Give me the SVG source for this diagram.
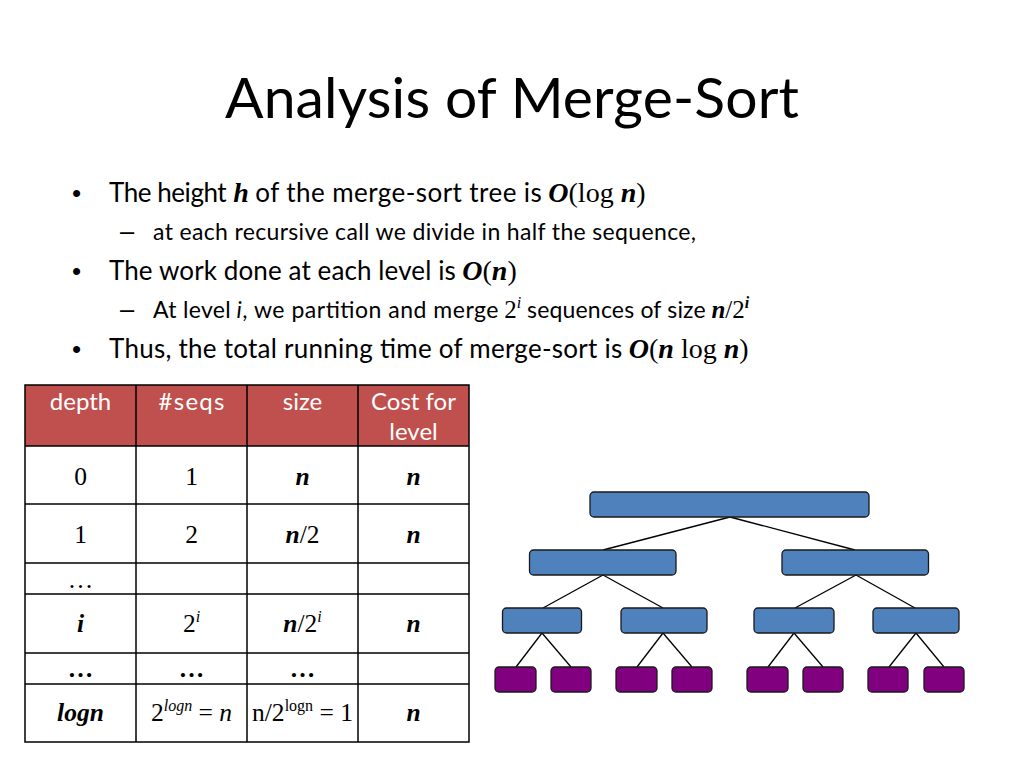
<svg xmlns="http://www.w3.org/2000/svg" width="1024" height="768" viewBox="0 0 1024 768">
<style>
.sans{font-family:Lato,"Liberation Sans",sans-serif;fill:#000}
.b1{font-size:26px}
.b2{font-size:23px}
.bul{font-family:"Liberation Sans",Arial,sans-serif;fill:#000}
.m{font-family:"Liberation Serif",serif;fill:#000}
.bi{font-family:"Liberation Serif",serif;font-weight:bold;font-style:italic}
.it{font-family:"Liberation Serif",serif;font-style:italic}
.hdr{font-family:Lato,"Liberation Sans",sans-serif;font-size:24px;fill:#fff;text-anchor:middle}
.cell{font-family:"Liberation Serif",serif;font-size:25.5px;fill:#000;text-anchor:middle}
.grid{stroke:#000;stroke-width:1.5;fill:none}
.blue{fill:#4F81BD;stroke:#1a1a1a;stroke-width:1.3}
.leaf{fill:#800080;stroke:#1a1a1a;stroke-width:1.3}
.edge{stroke:#000;stroke-width:1.3}
</style>
<rect width="1024" height="768" fill="#fff"/>
<text x="225" y="118" class="sans" font-size="57" textLength="574">Analysis of Merge-Sort</text>

<g id="bullets">
<text x="72" y="202" class="bul" font-size="26">•</text>
<text x="109" y="202" class="sans b1" textLength="117.7">The height</text>
<text x="233.2" y="202" class="bi" font-size="28">h</text>
<text x="255.3" y="202" class="sans b1" textLength="286.5">of the merge-sort tree is</text>
<text x="548.3" y="202" class="m" font-size="28"><tspan class="bi">O</tspan>(log <tspan class="bi">n</tspan>)</text>

<text x="120" y="240" class="bul" font-size="25.5">–</text>
<text x="153" y="240" class="sans b2" textLength="543">at each recursive call we divide in half the sequence,</text>

<text x="72" y="280" class="bul" font-size="26">•</text>
<text x="109" y="280" class="sans b1" textLength="346.8">The work done at each level is</text>
<text x="462.3" y="280" class="m" font-size="28"><tspan class="bi">O</tspan>(<tspan class="bi">n</tspan>)</text>

<text x="120" y="318" class="bul" font-size="25.5">–</text>
<text x="153" y="318" class="sans b2" textLength="77.7">At level</text>
<text x="236.5" y="318" class="sans b2" font-style="italic">i</text>
<text x="242.3" y="318" class="sans b2" textLength="256.2">, we partition and merge</text>
<text x="504.3" y="318" class="m" font-size="25">2<tspan class="it" font-size="16" dy="-10">i</tspan></text>
<text x="527" y="318" class="sans b2" textLength="178.6">sequences of size</text>
<text x="711.4" y="318" class="m" font-size="25"><tspan class="bi">n</tspan>/2<tspan class="bi" font-size="16" dy="-10">i</tspan></text>

<text x="72" y="358" class="bul" font-size="26">•</text>
<text x="109" y="358" class="sans b1" textLength="513.3">Thus, the total running time of merge-sort is</text>
<text x="628.8" y="358" class="m" font-size="28"><tspan class="bi">O</tspan>(<tspan class="bi">n</tspan> log <tspan class="bi">n</tspan>)</text>
</g>

<g id="table">
<rect x="25" y="385" width="444" height="61" fill="#C0504D"/>
<g class="grid">
<rect x="25" y="385" width="444" height="357"/>
<line x1="136" y1="385" x2="136" y2="742"/>
<line x1="247" y1="385" x2="247" y2="742"/>
<line x1="358" y1="385" x2="358" y2="742"/>
<line x1="25" y1="446" x2="469" y2="446"/>
<line x1="25" y1="504" x2="469" y2="504"/>
<line x1="25" y1="563" x2="469" y2="563"/>
<line x1="25" y1="594" x2="469" y2="594"/>
<line x1="25" y1="653" x2="469" y2="653"/>
<line x1="25" y1="684" x2="469" y2="684"/>
</g>
<text x="80.5" y="410" class="hdr">depth</text>
<text x="191.5" y="410" class="hdr" textLength="66">#seqs</text>
<text x="302.5" y="410" class="hdr">size</text>
<text x="413.5" y="410" class="hdr">Cost for</text>
<text x="413.5" y="440" class="hdr">level</text>

<text x="80.5" y="485" class="cell">0</text>
<text x="191.5" y="485" class="cell">1</text>
<text x="302.5" y="485" class="cell"><tspan class="bi">n</tspan></text>
<text x="413.5" y="485" class="cell"><tspan class="bi">n</tspan></text>

<text x="80.5" y="543" class="cell">1</text>
<text x="191.5" y="543" class="cell">2</text>
<text x="302.5" y="543" class="cell"><tspan class="bi">n</tspan>/2</text>
<text x="413.5" y="543" class="cell"><tspan class="bi">n</tspan></text>

<text x="80.5" y="588" class="cell">…</text>

<text x="80.5" y="632" class="cell"><tspan class="bi">i</tspan></text>
<text x="191.5" y="632" class="cell">2<tspan class="it" font-size="16" dy="-10">i</tspan></text>
<text x="302.5" y="632" class="cell"><tspan class="bi">n</tspan>/2<tspan class="it" font-size="16" dy="-10">i</tspan></text>
<text x="413.5" y="632" class="cell"><tspan class="bi">n</tspan></text>

<text x="80.5" y="677" class="cell" font-weight="bold">…</text>
<text x="191.5" y="677" class="cell" font-weight="bold">…</text>
<text x="302.5" y="677" class="cell" font-weight="bold">…</text>

<text x="80.5" y="721" class="cell"><tspan class="bi">logn</tspan></text>
<text x="191.5" y="721" class="cell">2<tspan class="it" font-size="16" dy="-10">logn</tspan><tspan dy="10"> = </tspan><tspan class="it">n</tspan></text>
<text x="302.5" y="721" class="cell">n/2<tspan font-size="16" dy="-10">logn</tspan><tspan dy="10"> = 1</tspan></text>
<text x="413.5" y="721" class="cell"><tspan class="bi">n</tspan></text>
</g>

<g id="connectors">
<g class="edge">
<line x1="730" y1="517" x2="603" y2="550"/>
<line x1="730" y1="517" x2="855" y2="550"/>
<line x1="603" y1="575" x2="543" y2="608"/>
<line x1="603" y1="575" x2="663" y2="608"/>
<line x1="856" y1="575" x2="795" y2="608"/>
<line x1="856" y1="575" x2="915" y2="608"/>
<line x1="542" y1="633" x2="516" y2="667"/>
<line x1="542" y1="633" x2="571" y2="667"/>
<line x1="663" y1="633" x2="637" y2="667"/>
<line x1="663" y1="633" x2="692" y2="667"/>
<line x1="794" y1="633" x2="768" y2="667"/>
<line x1="794" y1="633" x2="823" y2="667"/>
<line x1="916" y1="633" x2="889" y2="667"/>
<line x1="916" y1="633" x2="944" y2="667"/>
</g>
</g>

<g id="n-root"><rect x="590" y="492" width="279" height="25" rx="4" class="blue"/></g>
<g id="n-l"><rect x="529.5" y="550" width="146.5" height="25" rx="4" class="blue"/></g>
<g id="n-r"><rect x="782" y="550" width="146.5" height="25" rx="4" class="blue"/></g>
<g id="n-ll"><rect x="502.5" y="608" width="79" height="25" rx="4" class="blue"/></g>
<g id="n-lr"><rect x="621" y="608" width="86" height="25" rx="4" class="blue"/></g>
<g id="n-rl"><rect x="754" y="608" width="80" height="25" rx="4" class="blue"/></g>
<g id="n-rr"><rect x="873" y="608" width="86" height="25" rx="4" class="blue"/></g>
<g id="leaf1"><rect x="495" y="667" width="41" height="25" rx="4" class="leaf"/></g>
<g id="leaf2"><rect x="551" y="667" width="40" height="25" rx="4" class="leaf"/></g>
<g id="leaf3"><rect x="616" y="667" width="41" height="25" rx="4" class="leaf"/></g>
<g id="leaf4"><rect x="672" y="667" width="40" height="25" rx="4" class="leaf"/></g>
<g id="leaf5"><rect x="747" y="667" width="41" height="25" rx="4" class="leaf"/></g>
<g id="leaf6"><rect x="803" y="667" width="40" height="25" rx="4" class="leaf"/></g>
<g id="leaf7"><rect x="868" y="667" width="40" height="25" rx="4" class="leaf"/></g>
<g id="leaf8"><rect x="924" y="667" width="40" height="25" rx="4" class="leaf"/></g>
</svg>
